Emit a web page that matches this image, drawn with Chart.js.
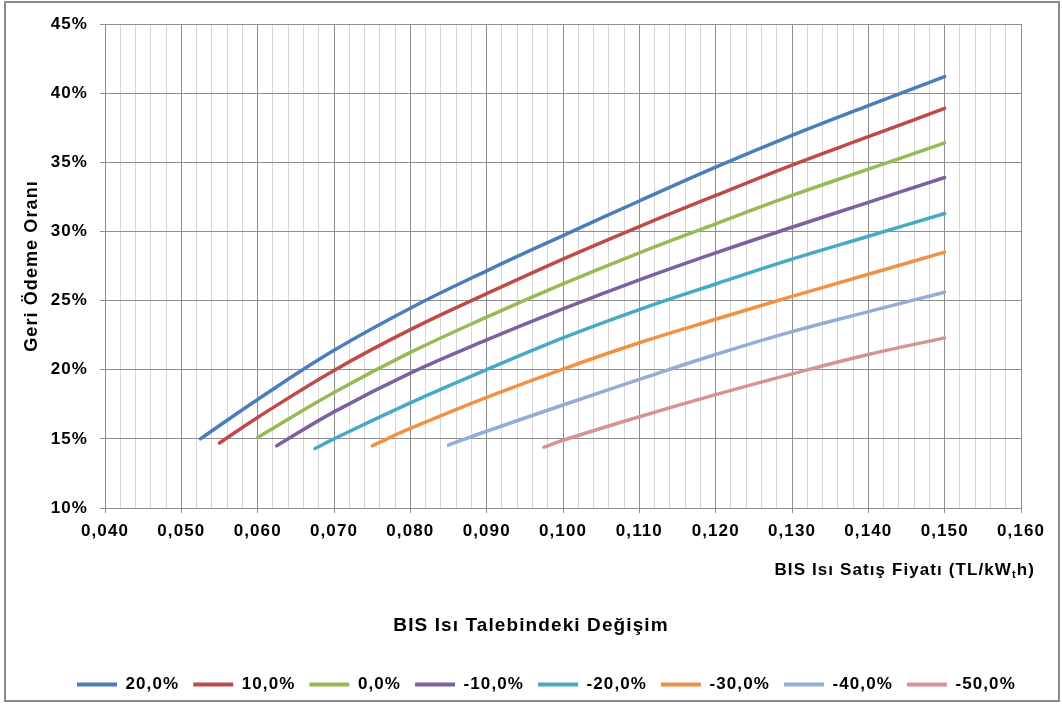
<!DOCTYPE html>
<html lang="tr">
<head>
<meta charset="utf-8">
<title>Geri Ödeme Oranı</title>
<script src="https://cdn.jsdelivr.net/npm/chart.js@4.4.1/dist/chart.umd.min.js"></script>
<style>
  html, body { margin: 0; padding: 0; background: #fff; }
  #wrap { width: 1062px; height: 713px; }
  canvas { display: block; }
</style>
</head>
<body>
<div id="wrap"><canvas id="chart" width="1062" height="713"></canvas></div>
<script>
// Change in district heating demand (one curve each)
const seriesLabels = ['20,0%', '10,0%', '0,0%', '-10,0%', '-20,0%', '-30,0%', '-40,0%', '-50,0%'];
const seriesColors = ['#4A7EBB', '#BE4B48', '#98B954', '#7D60A0', '#46AAC5', '#F09143', '#93ADD6', '#D79393'];

// Heat selling price (TL/kWth) where each curve begins
const startPrices = [0.0525, 0.055, 0.060, 0.0625, 0.0675, 0.075, 0.085, 0.0975];
// Price grid followed after the starting price
const gridPrices = [0.060, 0.070, 0.080, 0.090, 0.100, 0.110, 0.120, 0.130, 0.140, 0.150];

// Payback ratio (%): value at the starting price, then at each later grid price
const ratioPlus20  = [15.0, 17.85, 21.4, 24.45, 27.15, 29.7, 32.2, 34.65, 36.95, 39.1, 41.2];
const ratioPlus10  = [14.7, 16.55, 19.95, 22.9, 25.5, 28.0, 30.35, 32.6, 34.8, 36.85, 38.9];
const ratioZero    = [15.1, 18.35, 21.25, 23.8, 26.2, 28.45, 30.55, 32.6, 34.5, 36.4];
const ratioMinus10 = [14.5, 16.95, 19.75, 22.15, 24.4, 26.5, 28.45, 30.3, 32.1, 33.9];
const ratioMinus20 = [14.3, 15.0, 17.6, 20.0, 22.3, 24.35, 26.2, 28.0, 29.65, 31.3];
const ratioMinus30 = [14.5, 15.75, 18.0, 20.05, 21.95, 23.65, 25.3, 26.9, 28.5];
const ratioMinus40 = [14.55, 15.55, 17.45, 19.3, 21.1, 22.75, 24.2, 25.6];
const ratioMinus50 = [14.4, 14.9, 16.6, 18.2, 19.7, 21.1, 22.3];

const seriesRatios = [ratioPlus20, ratioPlus10, ratioZero, ratioMinus10,
                      ratioMinus20, ratioMinus30, ratioMinus40, ratioMinus50];

// Axis ranges and tick steps
const xMin = 0.040, xMax = 0.160, xMinorStep = 0.002;
const yMin = 10, yMax = 45, yStep = 5;

// Text
const yTitle = 'Geri Ödeme Oranı';
const xTitleMain = 'BIS Isı Satış Fiyatı (TL/kW';
const xTitleSub = 't';
const xTitleTail = 'h)';
const legendTitle = 'BIS Isı Talebindeki Değişim';

const FONT = "'Liberation Sans', Arial, Helvetica, sans-serif";
const SPACING = '1.1px';
const LEGEND_LEFT = 77;

function pricesFor(i) {
  const s = startPrices[i];
  return [s].concat(gridPrices.filter(p => p > s + 1e-9));
}

const datasets = seriesLabels.map((label, i) => {
  const xs = pricesFor(i);
  return {
    label,
    data: xs.map((x, j) => ({ x, y: seriesRatios[i][j] })),
    borderColor: seriesColors[i],
    backgroundColor: seriesColors[i],
    borderWidth: 3.5,
    borderCapStyle: 'round',
    borderJoinStyle: 'round',
    pointRadius: 0,
    fill: false,
    tension: 0.4
  };
});

const isMajor = v => Math.round(v * 1000) % 10 === 0;
const MAJOR_GRID = '#8f8f8f';
const MINOR_GRID = '#d6d6d6';

// Background, letter spacing, frame, axis caption with subscript and legend heading
const decor = {
  id: 'decor',
  beforeLayout(chart) {
    chart.ctx.letterSpacing = SPACING;
  },
  afterLayout(chart) {
    const lg = chart.legend;
    if (!lg || !lg.lineWidths) return;
    const pad = lg.options.labels.padding;
    const start = (lg.left + pad + lg.right - lg.lineWidths[0]) / 2;
    const shift = LEGEND_LEFT - start;
    lg.left += shift;
    lg.right += shift;
  },
  beforeDraw(chart) {
    const ctx = chart.ctx;
    ctx.save();
    ctx.fillStyle = '#fff';
    ctx.fillRect(0, 0, chart.width, chart.height);
    ctx.restore();
    ctx.letterSpacing = SPACING;
  },
  afterDraw(chart) {
    const ctx = chart.ctx;
    ctx.save();
    ctx.letterSpacing = SPACING;
    // outer frame
    ctx.strokeStyle = '#8a8a8a';
    ctx.lineWidth = 2;
    ctx.strokeRect(5, 2, 1054, 699);

    // x axis caption, right aligned, with subscript t
    ctx.fillStyle = '#000';
    ctx.textBaseline = 'middle';
    ctx.textAlign = 'left';
    const big = 'bold 17px ' + FONT;
    const small = 'bold 11px ' + FONT;
    ctx.font = big;
    const wMain = ctx.measureText(xTitleMain).width;
    const wTail = ctx.measureText(xTitleTail).width;
    ctx.font = small;
    const wSub = ctx.measureText(xTitleSub).width;
    const right = 1035, y = 570;
    let x = right - (wMain + wSub + wTail);
    ctx.font = big;
    ctx.fillText(xTitleMain, x, y);
    x += wMain;
    ctx.font = small;
    ctx.fillText(xTitleSub, x, y + 5);
    x += wSub;
    ctx.font = big;
    ctx.fillText(xTitleTail, x, y);

    // legend heading
    ctx.font = 'bold 19px ' + FONT;
    ctx.textAlign = 'center';
    ctx.fillText(legendTitle, 531, 626);
    ctx.restore();
  }
};

Chart.defaults.font.family = FONT;
Chart.defaults.color = '#000';

new Chart(document.getElementById('chart'), {
  type: 'line',
  data: { datasets },
  plugins: [decor],
  options: {
    responsive: false,
    devicePixelRatio: 1,
    animation: false,
    events: [],
    layout: { padding: { left: 0, right: 41, top: 24, bottom: 10 } },
    scales: {
      x: {
        type: 'linear',
        min: xMin,
        max: xMax,
        afterFit(scale) { scale.height = 154; },
        ticks: {
          stepSize: xMinorStep,
          maxTicksLimit: 100,
          autoSkip: false,
          maxRotation: 0,
          minRotation: 0,
          padding: 8,
          color: '#000',
          font: { size: 17, weight: 'bold' },
          callback: v => isMajor(v) ? v.toFixed(3).replace('.', ',') : ''
        },
        grid: {
          color: c => (c.tick && isMajor(c.tick.value)) ? MAJOR_GRID : MINOR_GRID,
          tickColor: c => (c.tick && isMajor(c.tick.value)) ? MAJOR_GRID : 'rgba(0,0,0,0)',
          tickLength: 5,
          lineWidth: 1
        },
        border: { display: true, color: MAJOR_GRID, width: 1 }
      },
      y: {
        min: yMin,
        max: yMax,
        afterFit(scale) { scale.width = 105; },
        ticks: {
          stepSize: yStep,
          padding: 12,
          color: '#000',
          font: { size: 17, weight: 'bold' },
          callback: v => v + '%'
        },
        grid: { color: MAJOR_GRID, tickColor: MAJOR_GRID, tickLength: 5, lineWidth: 1 },
        border: { display: true, color: MAJOR_GRID, width: 1 },
        title: {
          display: true,
          text: yTitle,
          color: '#000',
          font: { size: 18, weight: 'bold' },
          padding: { top: 21, bottom: 0 }
        }
      }
    },
    plugins: {
      tooltip: { enabled: false },
      legend: {
        position: 'bottom',
        labels: {
          boxWidth: 40,
          boxHeight: 4,
          padding: 14,
          color: '#000',
          font: { size: 17, weight: 'bold' },
          generateLabels(chart) {
            return chart.data.datasets.map((ds, i) => ({
              text: ds.label,
              fillStyle: ds.borderColor,
              strokeStyle: ds.borderColor,
              lineWidth: 0,
              hidden: false,
              datasetIndex: i,
              fontColor: '#000'
            }));
          }
        }
      }
    }
  }
});
</script>
</body>
</html>
